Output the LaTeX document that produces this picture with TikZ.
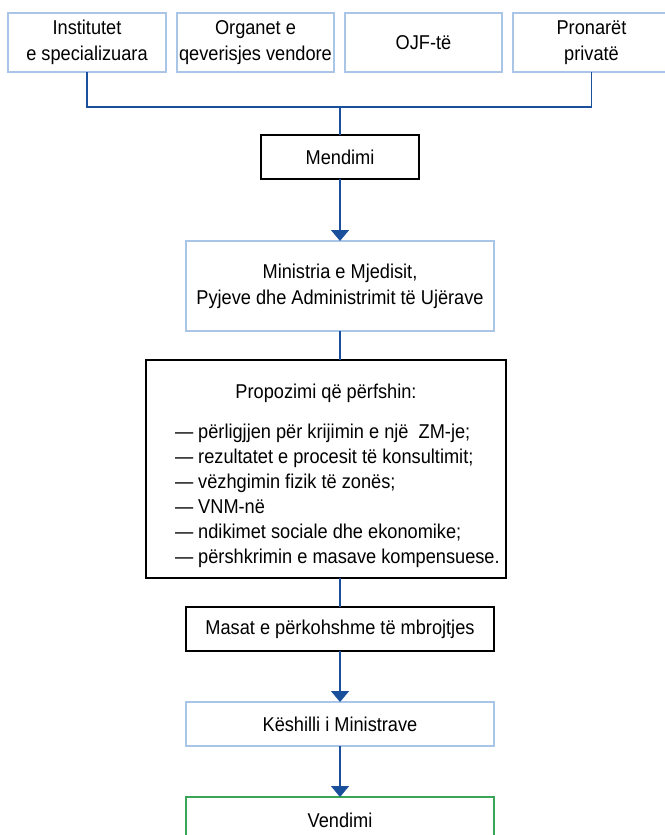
\documentclass[tikz,border=0pt]{standalone}
\usepackage{fontspec}
\setmainfont[FakeStretch=0.91]{Liberation Sans}
\usetikzlibrary{arrows.meta}
\definecolor{lblue}{HTML}{A9C6E8}
\definecolor{dblue}{HTML}{1A4F9C}
\definecolor{gbox}{HTML}{3AA655}
\begin{document}
\begin{tikzpicture}[x=1pt,y=-1pt,
  every node/.style={font=\fontsize{20}{26}\selectfont, inner sep=0pt, outer sep=0pt},
  lbox/.style={draw=lblue, line width=1.2pt, align=center},
  kbox/.style={draw=black, line width=1.2pt, align=center},
  gbx/.style={draw=gbox, line width=1.2pt, align=center},
  conn/.style={draw=dblue, line width=1.4pt},
  arr/.style={conn, -{Triangle[width=18pt,length=11pt]}},
  itm/.style={anchor=base west}]
\useasboundingbox (0,0) rectangle (664,835);
% top row
\node[lbox, minimum width=158, minimum height=59] (t1) at (87,42.5) {Institutet\\e specializuara};
\node[lbox, minimum width=157, minimum height=59] (t2) at (255.5,42.5) {Organet e\\qeverisjes vendore};
\node[lbox, minimum width=157, minimum height=59] (t3) at (423.5,42.5) {OJF-të};
\node[lbox, minimum width=157, minimum height=59] (t4) at (591.5,42.5) {Pronarët\\privatë};
\coordinate (j) at (340,107);
% chain
\node[kbox, minimum width=158, minimum height=44] (mend) at (340,157) {Mendimi};
\node[lbox, minimum width=308, minimum height=90] (mini) at (340,286) {Ministria e Mjedisit,\\Pyjeve dhe Administrimit të Ujërave};
\node[kbox, minimum width=360, minimum height=218] (prop) at (326,469) {};
\node[anchor=base] (ptitle) at (326,398) {Propozimi që përfshin:};
\node[itm] (i1) at (175,438) {— përligjjen për krijimin e një\ \ ZM-je;};
\node[itm] (i2) at (175,463) {— rezultatet e procesit të konsultimit;};
\node[itm] (i3) at (175,488) {— vëzhgimin fizik të zonës;};
\node[itm] (i4) at (175,513) {— VNM-në};
\node[itm] (i5) at (175,538) {— ndikimet sociale dhe ekonomike;};
\node[itm] (i6) at (175,563) {— përshkrimin e masave kompensuese.};
\node[kbox, minimum width=308, minimum height=44] (mas) at (340,629) {Masat e përkohshme të mbrojtjes};
\node[lbox, minimum width=308, minimum height=44] (kes) at (340,724) {Këshilli i Ministrave};
\node[gbx, minimum width=308, minimum height=60] (ven) at (340,827) {};
\node (ventext) at (340,820) {Vendimi};
% connectors
\draw[conn] (t1.south) |- (j) -| (t4.south);
\draw[conn] (j) -- (mend.north);
\draw[arr] (mend.south) -- (mini.north);
\draw[conn] (mini.south) -- (mini.south |- prop.north);
\draw[conn] (mas.north |- prop.south) -- (mas.north);
\draw[arr] (mas.south) -- (kes.north);
\draw[arr] (kes.south) -- (ven.north);
\end{tikzpicture}
\end{document}
